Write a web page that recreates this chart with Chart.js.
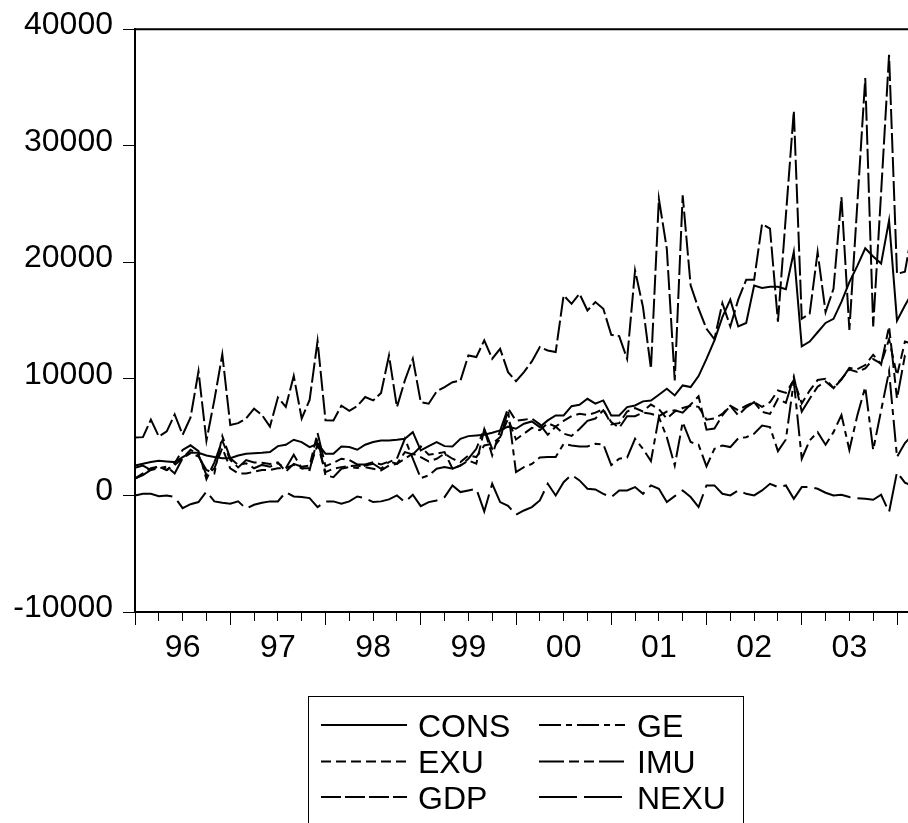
<!DOCTYPE html>
<html><head><meta charset="utf-8">
<script src="https://cdn.jsdelivr.net/npm/chart.js@4.4.0/dist/chart.umd.min.js"></script>
<style>
html,body{margin:0;padding:0;overflow:hidden;background:#fff;}
canvas{display:block;}
</style></head><body>
<canvas id="c" width="930" height="823"></canvas>
<script>
// ---- data (monthly, 1996M01 onward) ----
const yearLabels = ['96','97','98','99','00','01','02','03'];
const yTickValues = [-10000, 0, 10000, 20000, 30000, 40000];
const seriesNames = ['CONS','GE','EXU','IMU','GDP','NEXU'];

const CONS = [2570,2720,2860,2970,2920,2860,3290,3660,3660,3430,3290,3200,
  3200,3430,3580,3630,3660,3720,4230,4350,4780,4580,4150,4430,
  3580,3580,4200,4150,3920,4350,4580,4720,4720,4780,4860,5430,
  3860,4230,4580,4230,4200,4860,5090,5150,5200,5380,5580,5900,
  5720,6150,6350,5860,6440,6860,6860,7660,7780,8290,7870,8150,
  6860,6860,7580,7720,8070,8150,8640,9150,8580,9440,9300,10240,
  11720,13300,15300,16800,14500,14800,18000,17800,17900,17900,17700,20900,
  12800,13200,14000,14800,15150,16600,18300,19700,21200,20500,19900,23600,
  15000,16300,17500];
const GE = [2380,2560,2180,2330,2470,1890,3200,3630,3340,2180,1890,5090,
  3200,2620,2760,2330,2620,2470,2760,2330,3490,2330,2180,4880,
  1720,1570,2290,2430,2350,2570,2720,2290,2860,3150,4860,3150,
  1490,1720,2290,2430,2290,2570,3150,4000,5720,4000,4860,7290,
  2000,2430,2700,3250,3290,3290,4430,4290,4200,4200,4430,4380,
  2600,3150,3250,4860,4000,2950,6720,5000,2570,6290,4580,4350,
  2500,4000,4290,4150,4900,5000,5290,6000,5860,3800,4800,9800,
  3150,4720,5430,4350,5430,6900,3900,6860,9300,3900,7290,10650,
  3300,4500,5200];
const EXU = [1450,1890,2330,2470,2180,2620,3200,3920,3490,1740,2330,4070,
  2330,1890,1890,2030,2180,2180,2330,2330,2620,2330,2330,4360,
  2000,2290,2430,2520,2570,2430,2290,2150,2570,2720,3150,3580,
  3290,2920,3150,3580,3150,2860,3430,3290,4290,4430,5000,6580,
  4800,5300,5800,5600,6200,5900,6400,6800,7000,6900,7100,7400,
  6100,6200,7200,7500,7200,7800,7400,6600,7200,7500,7700,7600,
  6500,6600,7000,7700,7300,7700,8000,7600,8000,9000,8800,9900,
  7900,9000,9900,10000,9200,10000,10800,10600,10900,11700,11300,13400,
  10300,13200,13000];
const IMU = [1450,1750,2190,2530,2180,2760,3900,4300,3800,1400,2840,4700,
  3050,2400,3030,2830,2810,2690,2840,2040,2710,2470,2560,5360,
  2510,2800,3150,3030,2660,2660,2860,2660,2910,2720,3720,3520,
  4200,3490,3580,3720,2290,2570,3000,2720,5660,3430,5570,7480,
  6400,6500,6600,6100,5200,5900,5300,5100,5700,6400,6600,7300,
  6300,5800,6800,6800,7100,7000,6800,7200,7300,7100,7800,8500,
  5640,5740,6860,7700,6870,7560,8000,7170,7000,8290,7940,10190,
  7190,8290,9330,9770,9200,9940,10940,10830,11190,12070,11240,14500,
  8300,12000,12300];
const GDP = [4960,5000,6500,5050,5500,6950,5200,6700,10650,4700,8200,12100,
  6050,6200,6600,7450,6900,5900,8400,7600,10250,6600,8200,13250,
  6450,6430,7700,7250,7660,8440,8150,8800,12010,7580,9870,11730,
  8010,7870,8920,9300,9720,9850,12010,11870,13300,11730,12580,10580,
  9800,10580,11500,12730,12440,12300,17160,16440,17300,15870,16590,16020,
  13780,13670,11720,19300,16160,10870,25450,21160,9870,25740,18020,16020,
  14300,13400,16500,14500,16800,18500,18500,23300,22900,14900,24000,33000,
  15160,15590,20880,15730,17730,25600,14200,25000,35800,14500,26000,37800,
  19000,19200,23000];
const NEXU = [0,140,140,-60,0,-140,-1090,-750,-570,340,-510,-630,
  -715,-510,-1140,-800,-630,-510,-510,290,-90,-140,-230,-1000,
  -510,-510,-715,-510,-90,-230,-570,-510,-340,0,-570,60,
  -915,-570,-430,-140,860,290,430,570,-1370,1000,-570,-900,
  -1660,-1290,-1000,-430,1000,0,1140,1770,1290,570,515,140,
  -140,430,430,715,140,860,570,-570,-60,430,-140,-1000,
  860,860,140,0,430,140,0,430,1000,715,860,-290,
  715,715,570,230,0,60,-140,-230,-290,-370,60,-1430,
  2000,1100,800];

// ---- styles ----
const seriesValues = {CONS, GE, EXU, IMU, GDP, NEXU};
const seriesDash = {CONS: [], GE: [22,5,6,5], EXU: [10,5], IMU: [25,5,10,5,10,5], GDP: [20,4], NEXU: [38,7]};
const FONT = '"Liberation Sans", Arial, Helvetica, sans-serif';
const MONTH_PX = 7.9375;
const X_MAX = 99;
const CANVAS_W = 930, CANVAS_H = 823;
const AREA_LEFT = 135, AREA_TOP = 29, AREA_BOTTOM = 612;
const areaRight = AREA_LEFT + X_MAX * MONTH_PX;

const quarterTicks = [];
for (let v = 0; v <= 96; v += 3) quarterTicks.push(v);

const datasets = seriesNames.map(n => ({
  label: n,
  data: seriesValues[n].map((v, i) => ({x: i, y: v})),
  borderColor: '#000',
  borderWidth: 2,
  borderDash: seriesDash[n],
  pointRadius: 0,
  tension: 0,
  fill: false
}));

const framePlugin = {
  id: 'frame',
  afterDraw(chart) {
    const {ctx, chartArea: a} = chart;
    ctx.save();
    ctx.strokeStyle = '#000';
    ctx.lineWidth = 2;
    ctx.beginPath();
    ctx.moveTo(a.left - 1, a.top);
    ctx.lineTo(a.right, a.top);
    ctx.lineTo(a.right, a.bottom);
    ctx.stroke();
    ctx.restore();
  }
};

const boxLegend = {
  id: 'boxLegend',
  afterDraw(chart) {
    const ctx = chart.ctx;
    ctx.save();
    ctx.strokeStyle = '#000';
    ctx.lineWidth = 1;
    ctx.strokeRect(308.5, 696.5, 435, 160);
    ctx.font = '32px ' + FONT;
    ctx.fillStyle = '#000';
    ctx.textBaseline = 'alphabetic';
    const rows = [725, 761.5, 797];
    const colLine = [[321, 407], [539, 625]];
    const colText = [418, 637];
    chart.data.datasets.forEach((ds, k) => {
      const c = k % 2, r = Math.floor(k / 2), y = rows[r];
      ctx.setLineDash(ds.borderDash);
      ctx.lineWidth = 2;
      ctx.beginPath();
      ctx.moveTo(colLine[c][0], y);
      ctx.lineTo(colLine[c][1], y);
      ctx.stroke();
      ctx.setLineDash([]);
      ctx.fillText(ds.label, colText[c], y + 11.5);
    });
    ctx.restore();
  }
};

new Chart(document.getElementById('c'), {
  type: 'line',
  data: {datasets},
  plugins: [framePlugin, boxLegend],
  options: {
    responsive: false,
    animation: false,
    devicePixelRatio: 1,
    layout: {padding: {top: AREA_TOP, right: CANVAS_W - areaRight, bottom: 0, left: 0}},
    plugins: {legend: {display: false}, tooltip: {enabled: false}},
    scales: {
      x: {
        type: 'linear', min: 0, max: X_MAX,
        afterBuildTicks: s => { s.ticks = quarterTicks.map(v => ({value: v})); },
        afterFit: s => { s.height = CANVAS_H - AREA_BOTTOM; },
        grid: {
          drawOnChartArea: false, drawTicks: true, tickLength: 13, tickWidth: 1, tickColor: '#000',
          tickBorderDash: ctx => (ctx.tick && ctx.tick.value % 12 === 0) ? [] : [8, 100]
        },
        border: {display: true, color: '#000', width: 2},
        ticks: {
          autoSkip: false, maxRotation: 0, minRotation: 0, padding: 4,
          labelOffset: 6 * MONTH_PX, color: '#000', font: {family: FONT, size: 32},
          callback: v => (v % 12 === 0 && v / 12 < yearLabels.length) ? yearLabels[v / 12] : ''
        }
      },
      y: {
        min: -10000, max: 40000,
        afterBuildTicks: s => { s.ticks = yTickValues.map(v => ({value: v})); },
        afterFit: s => { s.width = AREA_LEFT; },
        grid: {drawOnChartArea: false, drawTicks: true, tickLength: 12, tickWidth: 1, tickColor: '#000'},
        border: {display: true, color: '#000', width: 2},
        ticks: {padding: 10, labelOffset: -4, color: '#000', font: {family: FONT, size: 32}, callback: v => String(v)}
      }
    }
  }
});
</script>
</body></html>
